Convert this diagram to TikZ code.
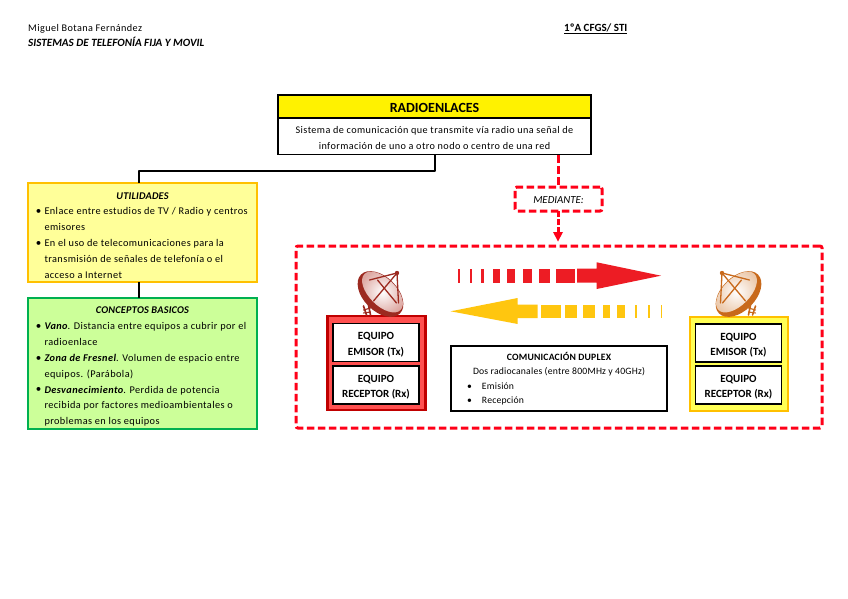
\documentclass[tikz,border=0pt]{standalone}
\usepackage{fontspec}
\setmainfont{Carlito}
\newfontfamily\bodyf[LetterSpace=4]{Carlito}
\newfontfamily\headf[LetterSpace=2]{Carlito}
\usetikzlibrary{arrows.meta}
\definecolor{arrowred}{HTML}{ED1C24}
\definecolor{arrowyel}{HTML}{FFC60F}
\definecolor{dashred}{HTML}{FF0018}
\definecolor{utilfill}{HTML}{FFFF99}
\definecolor{utilline}{HTML}{FFC000}
\definecolor{concfill}{HTML}{CCFF99}
\definecolor{concline}{HTML}{00B050}
\definecolor{txfill}{HTML}{FF5050}
\definecolor{txline}{HTML}{C00000}
\definecolor{rxfill}{HTML}{FFFF55}
\definecolor{dishred}{HTML}{9C2A20}
\definecolor{dishredm}{HTML}{DDA8A2}
\definecolor{dishora}{HTML}{C8691B}
\definecolor{dishoram}{HTML}{EBC8AA}
\tikzset{
  blackbox/.style={draw=black,line width=1.8pt,fill=white,inner sep=0pt,align=center},
  titlebox/.style={draw=black,line width=1.8pt,fill=yellow,inner sep=0pt,font=\fontsize{14}{15}\selectfont\bfseries},
  link/.style={draw=black,line width=1.6pt,line join=round},
  redlink/.style={draw=dashred,line width=3pt,dash pattern=on 7.5pt off 3.5pt},
  notebox/.style={line width=1.8pt,inner sep=0pt,minimum width=229pt},
  reddash/.style={draw=dashred,line width=3pt,dash pattern=on 7.5pt off 3.5pt,rounded corners=2pt,inner sep=0pt},
  eqbox/.style={draw=black,line width=1.8pt,fill=white,inner sep=0pt,align=center,minimum width=86pt,minimum height=38pt,
     font=\fontsize{11}{15.8}\selectfont\bfseries},
  station/.style={line width=2.2pt,inner sep=0pt,minimum width=98pt,minimum height=94pt},
  plaintext/.style={inner sep=0pt,anchor=west},
}
\newcommand{\bul}{\leavevmode\llap{\raisebox{0.2pt}{\fontsize{11}{11}\selectfont\textbullet}\hspace{3.2pt}}}
\newcommand{\midline}[1]{\hspace*{-14.5pt}\makebox[225pt][c]{#1}}
\newcommand{\eqstrut}{\rule{0pt}{11.5pt}}
\newcommand{\drawdish}[2]{%
  \begin{scope}[line cap=round]
    % legs
    \draw[#1,line width=1.6pt] (-17,12) -- (-14,21);
    \draw[#1,line width=1.6pt] (-12,11) -- (-10,21);
    \draw[#1,line width=1.1pt] (-17,16) -- (-10,14);
    \draw[#1,line width=1.1pt] (-17,19) -- (-10,18);
    % back of the dish
    \fill[#1,rotate=-45] (0,0) ellipse [x radius=27.5pt,y radius=17pt];
    % face of the dish
    \shade[inner color=white,outer color=#2,rotate=-45] (0,-2.8) ellipse [x radius=25.5pt,y radius=13.5pt];
    % feed
    \draw[#1,line width=1.3pt] (16.5,-21) -- (-11,-14);
    \draw[#1,line width=1.3pt] (16.5,-21) -- (-7,7);
    \draw[#1,line width=1.3pt] (16.5,-21) -- (18,9);
    \draw[#1,line width=1.3pt] (-3,-14) -- (16,9);
    \fill[#1] (16.5,-21) circle (2.2pt);
  \end{scope}}
\begin{document}
\begin{tikzpicture}[x=1pt,y=-1pt]
\useasboundingbox (0,0) rectangle (848,599);
\fill[white] (0,0) rectangle (848,599);

% page header
\node[plaintext] (author) at (28,29) {\bodyf\fontsize{10.2}{11}\selectfont Miguel Botana Fernández};
\node[plaintext] (subject) at (28,41.5) {\fontsize{11.1}{12}\selectfont\bfseries\itshape SISTEMAS DE TELEFONÍA FIJA Y MOVIL};
\node[plaintext] (course) at (564,29) {\fontsize{11}{12}\selectfont\bfseries\underline{1ºA CFGS/ STI}};

% title
\node[titlebox,minimum width=313pt,minimum height=23pt] (title) at (434.5,106.5) {\rule{0pt}{13pt}RADIOENLACES};
\node[blackbox,minimum width=313pt,minimum height=36pt,font=\bodyf\fontsize{10.2}{15.8}\selectfont] (def) at (434.5,136.5)
  {\rule{0pt}{10pt}Sistema de comunicación que transmite vía radio una señal de\\información de uno a otro nodo o centro de una red};

% left column
\node[notebox,draw=utilline,fill=utilfill,minimum height=99pt] (util) at (142.5,232.5) {%
  \begin{minipage}{225pt}\vspace*{5.5pt}\fontsize{10.3}{15.8}\selectfont\bodyf\raggedright
  \leftskip=14.5pt
  \midline{\headf\bfseries\itshape UTILIDADES}\\
  \bul Enlace entre estudios de TV / Radio y centros\\
  emisores\\
  \bul En el uso de telecomunicaciones para la\\
  transmisión de señales de telefonía o el\\
  acceso a Internet
  \end{minipage}};
\node[notebox,draw=concline,fill=concfill,minimum height=131pt] (conc) at (142.5,363.5) {%
  \begin{minipage}{225pt}\vspace*{6.5pt}\fontsize{10.3}{15.86}\selectfont\bodyf\raggedright
  \leftskip=14.5pt
  \midline{\headf\bfseries\itshape CONCEPTOS BASICOS}\\
  \bul {\bfseries\itshape Vano}. Distancia entre equipos a cubrir por el\\
  radioenlace\\
  \bul {\bfseries\itshape Zona de Fresnel}. Volumen de espacio entre\\
  equipos. (Parábola)\\
  \bul {\bfseries\itshape Desvanecimiento}. Perdida de potencia\\
  recibida por factores medioambientales o\\
  problemas en los equipos
  \end{minipage}};

% connectors on the left
\coordinate (defout) at (435,154);
\coordinate (utilin) at (139,183);
\coordinate (utilout) at (139,282);
\coordinate (concin) at (139,298);
\draw[link] (defout) -- (435,171) -- (139,171) -- (utilin);
\draw[link] (utilout) -- (concin);

% MEDIANTE and frame
\node[reddash,minimum width=87pt,minimum height=24pt,font=\fontsize{10.8}{12}\selectfont\itshape] (med) at (558.5,199) {\rule{0pt}{9.5pt}MEDIANTE:};
\node[reddash,minimum width=526pt,minimum height=182pt] (frame) at (559,337) {};
\coordinate (defred) at (558,155);
\coordinate (medin) at (558,187);
\coordinate (medout) at (558,211);
\coordinate (framein) at (558,233);
\draw[redlink] (defred) -- (medin);
\draw[redlink,dash pattern=on 6pt off 2pt] (medout) -- (framein);
\fill[dashred] (553,232) -- (563,232) -- (558,241.5) -- cycle;

% stations
\node[station,draw=txline,fill=txfill] (tx) at (376.5,363) {};
\node[eqbox] (txa) at (376,342.5) {\eqstrut EQUIPO\\EMISOR (Tx)};
\node[eqbox] (txb) at (376,385) {\eqstrut EQUIPO\\RECEPTOR (Rx)};
\node[station,draw=utilline,fill=rxfill] (rx) at (739,364) {};
\node[eqbox] (rxa) at (738.5,343) {\eqstrut EQUIPO\\EMISOR (Tx)};
\node[eqbox] (rxb) at (738.5,385) {\eqstrut EQUIPO\\RECEPTOR (Rx)};

% dishes
\begin{scope}[shift={(380.5,294)}]\drawdish{dishred}{dishredm}\end{scope}
\begin{scope}[shift={(738.5,294)},xscale=-1]\drawdish{dishora}{dishoram}\end{scope}

% duplex box
\node[draw=black,line width=1.5pt,fill=white,inner sep=0pt,minimum width=216pt,minimum height=65pt] (dup) at (559,378.5) {%
  \begin{minipage}{212pt}\fontsize{9.7}{14.5}\selectfont\headf\raggedright\leftskip=0pt
  {\centering{\bfseries COMUNICACIÓN DUPLEX}\\ Dos radiocanales (entre 800MHz y 40GHz)\par}
  \leftskip=29pt
  \leavevmode\llap{\textbullet\hspace{10pt}}Emisión\\
  \leavevmode\llap{\textbullet\hspace{10pt}}Recepción
  \end{minipage}};

% red arrow
\foreach \a/\b in {458.3/460,470/472.3,481.3/484.3,493.3/500,507.3/515,522.7/532.3,538.7/550.3,556/575}
  \fill[arrowred] (\a,268.7) rectangle (\b,282.7);
\fill[arrowred] (577,268.7) -- (596.7,268.7) -- (596.7,262.3) -- (661,275.7) -- (596.7,289) -- (596.7,282.7) -- (577,282.7) -- cycle;

% yellow arrow
\foreach \a/\b in {541/560.7,565/577.3,583.3/595,603.3/610.3,617.3/625.3,635.3/637.3,647.7/650.3,660.7/662.3}
  \fill[arrowyel] (\a,304.7) rectangle (\b,318);
\fill[arrowyel] (537.7,304.7) -- (517.7,304.7) -- (517.7,298) -- (450.7,311.3) -- (517.7,324) -- (517.7,318) -- (537.7,318) -- cycle;
\end{tikzpicture}
\end{document}
